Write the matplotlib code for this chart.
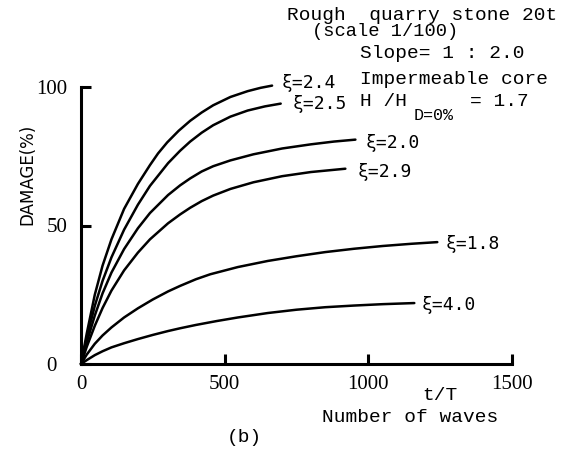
import matplotlib
matplotlib.use("Agg")
import matplotlib.pyplot as plt
from matplotlib.transforms import ScaledTranslation

# ---- data ----
x_24 = [0, 20, 48, 75, 106, 150, 198, 240, 268, 300, 340, 380, 420, 460, 520, 580, 625, 665]
y_24 = [0, 11, 25, 35.5, 45, 56, 65, 71.8, 76, 80, 84.2, 87.8, 90.8, 93.4, 96.4, 98.5, 99.7, 100.5]

x_25 = [0, 20, 48, 75, 106, 150, 198, 240, 303, 345, 380, 420, 460, 520, 580, 640, 695]
y_25 = [0, 9.5, 21, 30, 38.5, 48.5, 57.5, 64.3, 72.5, 77, 80.3, 83.5, 86.2, 89.3, 91.5, 93, 94]

x_20 = [0, 20, 48, 75, 106, 150, 198, 240, 303, 345, 380, 420, 460, 520, 600, 700, 800, 880, 955]
y_20 = [0, 7.8, 17.5, 25.5, 33, 41.5, 49, 54.5, 61, 64.5, 67, 69.5, 71.4, 73.5, 75.7, 77.8, 79.3, 80.3, 81]

x_29 = [0, 20, 48, 75, 106, 150, 198, 240, 303, 345, 380, 420, 460, 520, 600, 700, 800, 920]
y_29 = [0, 6.2, 13.8, 20.2, 26.5, 33.8, 40.2, 45, 50.8, 54, 56.4, 58.8, 60.8, 63.2, 65.6, 67.8, 69.3, 70.5]

x_18 = [0, 20, 48, 75, 106, 150, 198, 250, 303, 345, 400, 450, 546, 650, 750, 850, 950, 1050, 1150, 1240]
y_18 = [0, 3.4, 7.3, 10.3, 13.2, 16.8, 20.1, 23.3, 26.2, 28.2, 30.6, 32.4, 35, 37.2, 38.9, 40.4, 41.6, 42.6, 43.4, 44]

x_40 = [0, 20, 48, 75, 106, 150, 198, 250, 303, 345, 400, 472, 546, 650, 750, 850, 950, 1050, 1160]
y_40 = [0, 1.4, 3.2, 4.6, 6.0, 7.5, 9.0, 10.5, 11.9, 12.9, 14.1, 15.5, 16.8, 18.4, 19.6, 20.5, 21.1, 21.6, 22]

series_labels = ["ξ=2.4", "ξ=2.5", "ξ=2.0", "ξ=2.9", "ξ=1.8", "ξ=4.0"]
series_x = [x_24, x_25, x_20, x_29, x_18, x_40]
series_y = [y_24, y_25, y_20, y_29, y_18, y_40]
label_offsets_px = [(10, 3), (12, 0), (10, -3), (12, -3), (8, -2), (7, -2)]

x_ticks = [0, 500, 1000, 1500]
y_ticks = [0, 50, 100]

W, H = 574, 449
fig = plt.figure(figsize=(W / 100, H / 100), dpi=100)
fig.patch.set_facecolor("white")

def fx(px):
    return px / W

def fy(py):
    return 1 - py / H

ax = fig.add_axes([fx(81), fy(364), fx(512) - fx(81), fy(87) - fy(364)])
ax.set_xlim(0, 1500)
ax.set_ylim(0, 100)

for xs, ys, lab, off in zip(series_x, series_y, series_labels, label_offsets_px):
    ax.plot(xs, ys, color="black", lw=1.8, clip_on=False,
            solid_capstyle="round", solid_joinstyle="round")
    ax.annotate(lab, xy=(xs[-1], ys[-1]), xytext=off, textcoords="offset pixels",
                ha="left", va="center", fontsize=13, family="DejaVu Sans Mono",
                annotation_clip=False)

for s in ["top", "right"]:
    ax.spines[s].set_visible(False)
for s in ["left", "bottom"]:
    ax.spines[s].set_linewidth(2.2)

ax.set_xticks(x_ticks)
ax.set_yticks(y_ticks)
ax.set_xticklabels([str(v) for v in x_ticks], family="Liberation Serif", fontsize=15)
ax.set_yticklabels([str(v) for v in y_ticks], family="Liberation Serif", fontsize=15)
ax.tick_params(axis="both", direction="in", length=7.5, width=2.2)
ax.tick_params(axis="y", pad=10)
ax.tick_params(axis="x", pad=8)

# the "0" on the y axis sits a little further left in the reference
t0 = ax.yaxis.get_major_ticks()[0].label1
t0.set_transform(t0.get_transform() + ScaledTranslation(-0.10, 0, fig.dpi_scale_trans))

ax.set_ylabel("DAMAGE(%)", family="DejaVu Sans", fontsize=12)
ax.yaxis.set_label_coords(fx(27), fy(174), transform=fig.transFigure)
ax.yaxis.label.set_va("center")

mono = "Liberation Mono"
fig.text(fx(287), fy(15), "Rough  quarry stone 20t", family=mono, fontsize=14, va="center")
fig.text(fx(312), fy(31), "(scale 1/100)", family=mono, fontsize=13.5, va="center")
fig.text(fx(360), fy(53), "Slope= 1 : 2.0", family=mono, fontsize=14, va="center")
fig.text(fx(360), fy(80), "Impermeable core", family=mono, fontsize=14, va="center")
fig.text(fx(360), fy(102), "H /H", family=mono, fontsize=14, va="center")
fig.text(fx(414), fy(115), "D=0%", family=mono, fontsize=12, va="center")
fig.text(fx(470), fy(102), "= 1.7", family=mono, fontsize=14, va="center")

fig.text(fx(422), fy(395), "t/T", family=mono, fontsize=14, va="center")
fig.text(fx(322), fy(417), "Number of waves", family=mono, fontsize=14, va="center")
fig.text(fx(227), fy(438), "(b)", family=mono, fontsize=14, va="center")

fig.savefig("out.png", dpi=100, facecolor="white")
